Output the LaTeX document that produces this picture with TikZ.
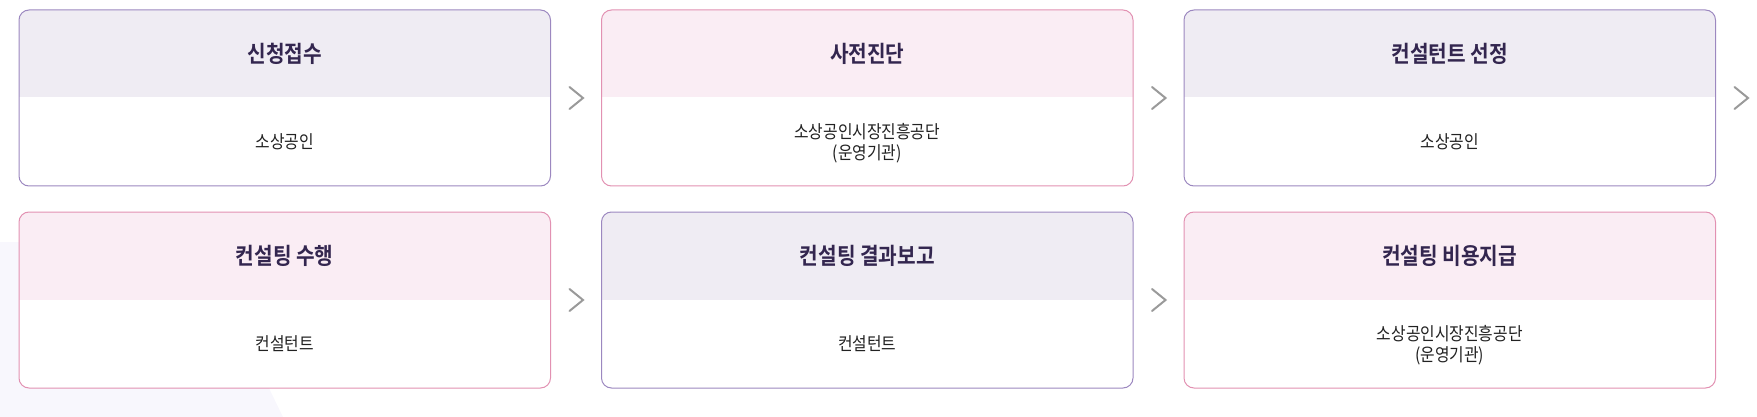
\documentclass[tikz,border=0pt]{standalone}
\usepackage{fontspec}
\setmainfont{Noto Sans CJK KR}
\newfontfamily\titlefont[FakeStretch=0.88]{Noto Sans CJK KR Bold}
\newfontfamily\bodyfont[FakeStretch=0.88]{Noto Sans CJK KR}
\definecolor{hdrP}{HTML}{EFECF3}
\definecolor{hdrK}{HTML}{FAEDF4}
\definecolor{bdrP}{HTML}{9C88C0}
\definecolor{bdrK}{HTML}{E291B2}
\definecolor{ttl}{HTML}{33264F}
\definecolor{bdy}{HTML}{222222}
\definecolor{chev}{HTML}{9A9A9A}
\definecolor{bgshape}{HTML}{F8F7FD}
\tikzset{
  card/.style={draw=#1, line width=1pt, fill=white, rounded corners=10pt,
    minimum width=531.5pt, minimum height=176pt, inner sep=0pt, outer sep=0pt},
  hdrfill/.style={path picture={\fill[#1, sharp corners] ([xshift=-2pt,yshift=2pt]path picture bounding box.north west) rectangle ([xshift=2pt,yshift=-87.5pt]path picture bounding box.north east);}},
  cardP/.style={card=bdrP, hdrfill=hdrP},
  cardK/.style={card=bdrK, hdrfill=hdrK},
  ttlnode/.style={text=ttl, font=\titlefont\fontsize{23}{27}\selectfont, inner sep=0pt},
  bdynode/.style={text=bdy, font=\bodyfont\fontsize{18}{21}\selectfont, align=center, inner sep=0pt},
  chevron/.style={draw=chev, line width=2pt, line cap=round, line join=miter},
}
\begin{document}
\begin{tikzpicture}[x=1pt,y=-1pt]
\useasboundingbox (0,0) rectangle (1757,417);
\fill[bgshape] (0,242) -- (198,242) -- (283,417) -- (0,417) -- cycle;
% row 1
\node[cardP] (b1) at (284.75,98) {};
\node[cardK] (b2) at (867.25,98) {};
\node[cardP] (b3) at (1449.75,98) {};
% row 2
\node[cardK] (b4) at (284.75,300) {};
\node[cardP] (b5) at (867.25,300) {};
\node[cardK] (b6) at (1449.75,300) {};
% titles
\node[ttlnode] (t1) at (284.75,54) {신청접수};
\node[ttlnode] (t2) at (867.25,54) {사전진단};
\node[ttlnode] (t3) at (1449.75,54) {컨설턴트 선정};
\node[ttlnode] (t4) at (284.75,256) {컨설팅 수행};
\node[ttlnode] (t5) at (867.25,256) {컨설팅 결과보고};
\node[ttlnode] (t6) at (1449.75,256) {컨설팅 비용지급};
% bodies
\node[bdynode] (d1) at (284.75,142) {소상공인};
\node[bdynode] (d2) at (867.25,143.5) {소상공인시장진흥공단\\(운영기관)};
\node[bdynode] (d3) at (1449.75,142) {소상공인};
\node[bdynode] (d4) at (284.75,344) {컨설턴트};
\node[bdynode] (d5) at (867.25,344) {컨설턴트};
\node[bdynode] (d6) at (1449.75,345.5) {소상공인시장진흥공단\\(운영기관)};
% chevrons
\foreach \b in {b1,b2,b3,b4,b5}{
  \draw[chevron] ([xshift=19pt,yshift=11pt]\b.east) -- ([xshift=32.5pt,yshift=0pt]\b.east) -- ([xshift=19pt,yshift=-11pt]\b.east);
}
\end{tikzpicture}
\end{document}
